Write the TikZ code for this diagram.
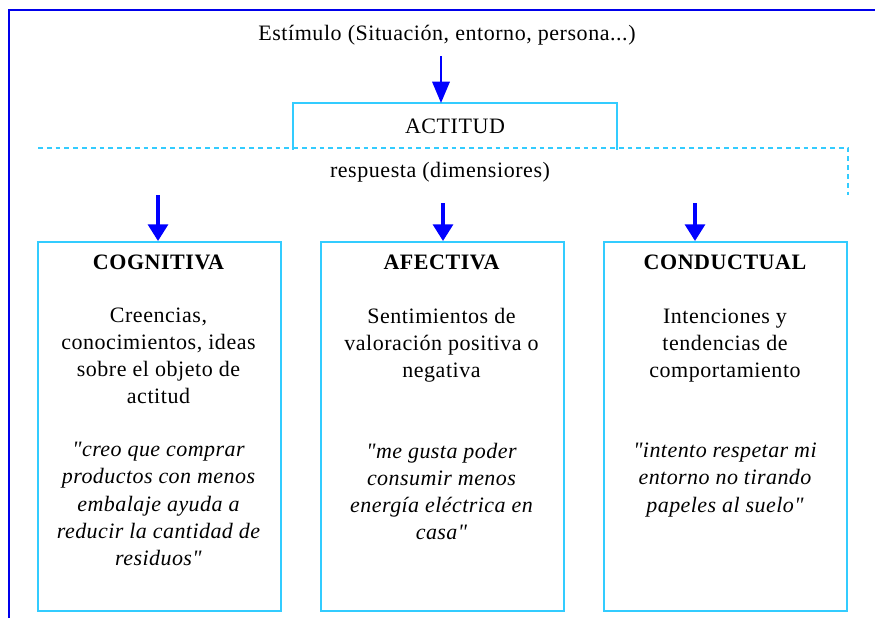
\documentclass[tikz,border=0pt]{standalone}
\usepackage{fontspec}
\setmainfont{Liberation Serif}
\newfontfamily\bodyf[LetterSpace=2.5]{Liberation Serif}
\newfontfamily\quotef[LetterSpace=2]{Liberation Serif}
\usetikzlibrary{arrows.meta}
\definecolor{framblue}{RGB}{0,0,235}
\definecolor{arrblue}{RGB}{0,0,255}
\definecolor{boxcyan}{RGB}{51,204,255}
\tikzset{
  txt/.style={font=\bodyf\fontsize{16.5}{19}\selectfont, anchor=base, inner sep=0pt},
  hd/.style={font=\bodyf\fontsize{16.5}{19}\selectfont\bfseries, anchor=base, inner sep=0pt},
  qt/.style={font=\quotef\fontsize{16.5}{19}\selectfont\itshape, anchor=base, inner sep=0pt},
  dimbox/.style={draw=boxcyan, line width=1.5pt, rectangle, inner sep=0pt,
     minimum width=182.25pt, minimum height=276.75pt, anchor=north west},
  bigarrow/.style={draw=arrblue, line width=2.4pt, -{Triangle[width=15pt,length=12.5pt]}, arrblue},
  smallarrow/.style={draw=arrblue, line width=1.8pt, -{Triangle[width=13pt,length=16pt]}, arrblue},
  dashline/.style={draw=boxcyan, line width=1.5pt, dash pattern=on 3.6pt off 3pt}
}
\begin{document}
\begin{tikzpicture}[x=0.75pt,y=-0.75pt]
\useasboundingbox (0,0) rectangle (875,618);
\fill[white] (0,0) rectangle (875,618);
% frame
\draw[framblue, line width=1.6pt] (9,618) -- (9,10) -- (875,10);
% stimulus
\node[txt] (stim) at (447,40) {Estímulo (Situación, entorno, persona...)};
% ACTITUD box (three sides)
\node[rectangle, inner sep=0pt, minimum width=242.25pt, minimum height=34.5pt, anchor=north west] (act) at (293,103) {};
\draw[boxcyan, line width=1.5pt] (act.south west) -- (act.north west) -- (act.north east) -- (act.south east);
\node[txt] (actt) at (455,133) {ACTITUD};
% dashed response line
\coordinate (d0) at (38,148);
\coordinate (d1) at (848,148);
\coordinate (d2) at (848,195);
\draw[dashline] (d0) -- (d1) -- (d2);
\node[txt] (resp) at (440,177) {respuesta (dimensiores)};
% boxes
\node[dimbox] (cog) at (37,241) {};
\node[dimbox] (afe) at (320,241) {};
\node[dimbox] (con) at (603,241) {};
% arrows
\coordinate (s0) at (441,56);
\draw[smallarrow] (s0) -- (s0 |- act.north);
\coordinate (a1) at (158,195);
\coordinate (a2) at (443,203);
\coordinate (a3) at (695,203);
\draw[bigarrow] (a1) -- (a1 |- cog.north);
\draw[bigarrow] (a2) -- (a2 |- afe.north);
\draw[bigarrow] (a3) -- (a3 |- con.north);
% COGNITIVA
\node[hd] (cogh) at (158.5,269) {COGNITIVA};
\node[txt] (cog1) at (158.5,322) {Creencias,};
\node[txt] (cog2) at (158.5,349) {conocimientos, ideas};
\node[txt] (cog3) at (158.5,376) {sobre el objeto de};
\node[txt] (cog4) at (158.5,403) {actitud};
\node[qt] (cogq1) at (158.5,456) {"creo que comprar};
\node[qt] (cogq2) at (158.5,483) {productos con menos};
\node[qt] (cogq3) at (158.5,511) {embalaje ayuda a};
\node[qt] (cogq4) at (158.5,538) {reducir la cantidad de};
\node[qt] (cogq5) at (158.5,565) {residuos"};
% AFECTIVA
\node[hd] (afeh) at (441.5,269) {AFECTIVA};
\node[txt] (afe1) at (441.5,323) {Sentimientos de};
\node[txt] (afe2) at (441.5,350) {valoración positiva o};
\node[txt] (afe3) at (441.5,377) {negativa};
\node[qt] (afeq1) at (441.5,458) {"me gusta poder};
\node[qt] (afeq2) at (441.5,485) {consumir menos};
\node[qt] (afeq3) at (441.5,512) {energía eléctrica en};
\node[qt] (afeq4) at (441.5,539) {casa"};
% CONDUCTUAL
\node[hd] (conh) at (725,269) {CONDUCTUAL};
\node[txt] (con1) at (725,323) {Intenciones y};
\node[txt] (con2) at (725,350) {tendencias de};
\node[txt] (con3) at (725,377) {comportamiento};
\node[qt] (conq1) at (725,457) {"intento respetar mi};
\node[qt] (conq2) at (725,484) {entorno no tirando};
\node[qt] (conq3) at (725,512) {papeles al suelo"};
\end{tikzpicture}
\end{document}
